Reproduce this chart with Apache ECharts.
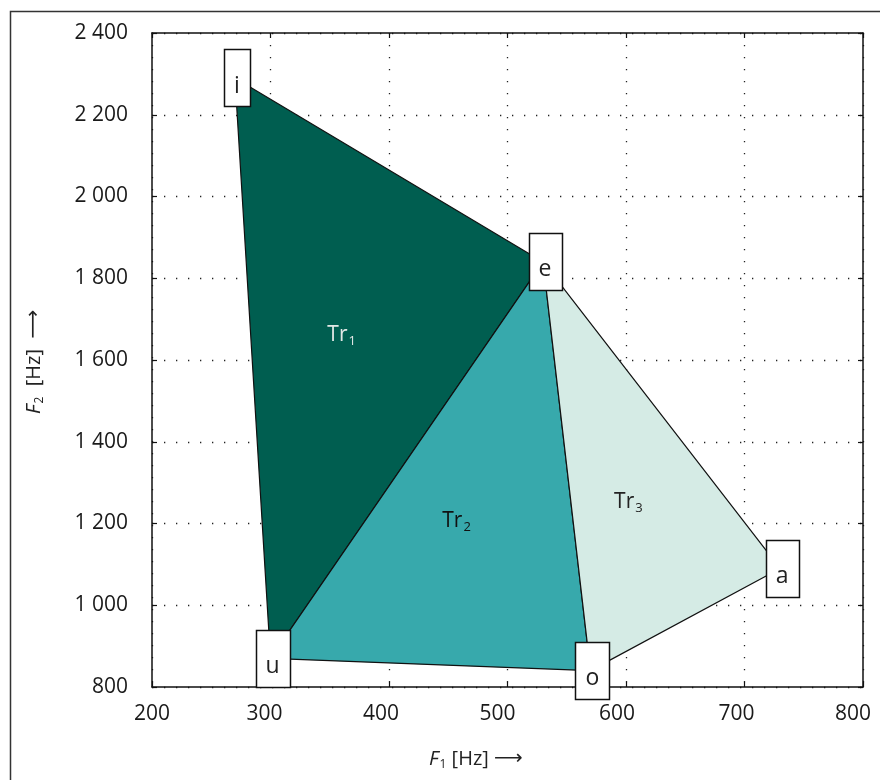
<!DOCTYPE html>
<html><head><meta charset="utf-8">
<script src="https://cdn.jsdelivr.net/npm/echarts@6/dist/echarts.min.js"></script>
<style>html,body{margin:0;padding:0;background:#fff}#c{width:880px;height:780px}</style>
</head><body><div id="c"></div>
<script>
// Vowel formant data (F1, F2 in Hz)
const vowels = ['i', 'e', 'a', 'o', 'u'];
const f1 = [270, 530, 730, 570, 300];
const f2 = [2290, 1840, 1090, 840, 870];
// Triangles by vowel names
const triangles = [['i', 'e', 'u'], ['e', 'u', 'o'], ['e', 'o', 'a']];
const triIndex = ['1', '2', '3'];
const triLabelF1 = [360, 457, 602];
const triLabelF2 = [1660, 1206, 1253];
// Axis ranges
const xMin = 200, xMax = 800, xStep = 100;
const yMin = 800, yMax = 2400, yStep = 200;

const triColors = ['#005E50', '#37A9AC', '#D5EBE5'];
const triTextColors = ['#E2E8E6', '#111111', '#222222'];
const FONT = 'Open Sans';
const LABEL_FONT_SIZE = 23;
// small leftward nudges of the x tick labels (style only)
const xLabelNudge = [0, 6, 8, 10, 9, 8, 10];

function fmt(v) { return String(v).replace(/\B(?=(\d{3})+(?!\d))/g, ' '); }

const measureCtx = document.createElement('canvas').getContext('2d');
function textWidth(t) {
  measureCtx.font = LABEL_FONT_SIZE + 'px "' + FONT + '"';
  return measureCtx.measureText(t).width;
}

const chart = echarts.init(document.getElementById('c'), null, {renderer: 'canvas'});

const axisCommon = {
  axisLine: {show: true, onZero: false, lineStyle: {color: '#111', width: 1.5}},
  axisTick: {show: true, inside: true, length: 5, lineStyle: {color: '#111', width: 1.2}},
  splitLine: {show: false}
};

const titleRich = {
  f: {fontFamily: FONT, fontSize: 20, fontStyle: 'italic', fill: '#222', lineHeight: 26},
  s: {fontFamily: FONT, fontSize: 12, fill: '#222', lineHeight: 26, padding: [11, 0, 0, 1]},
  t: {fontFamily: FONT, fontSize: 20, fill: '#222', lineHeight: 26},
  r: {fontFamily: 'DejaVu Sans', fontSize: 20, fill: '#222', lineHeight: 26}
};

const xRich = {};
xLabelNudge.forEach(function (n, i) {
  xRich['p' + i] = {fontFamily: FONT, fontSize: 21, color: '#1a1a1a', padding: [0, 2 * n, 0, 0]};
});

const option = {
  backgroundColor: '#fff',
  animation: false,
  grid: {left: 152, right: 17, top: 33, bottom: 93},
  xAxis: [
    Object.assign({}, axisCommon, {
      type: 'value', min: xMin, max: xMax, interval: xStep, position: 'bottom',
      axisLabel: {
        color: '#1a1a1a', fontFamily: FONT, fontSize: 21, margin: 17,
        formatter: function (v) {
          const i = Math.round((v - xMin) / xStep);
          return '{p' + i + '|' + v + '}';
        },
        rich: xRich
      },
      splitLine: {show: true, lineStyle: {color: '#222', width: 1.3, type: [1.3, 10.7]}}
    }),
    Object.assign({}, axisCommon, {
      type: 'value', min: xMin, max: xMax, interval: xStep, position: 'top',
      axisLabel: {show: false}
    })
  ],
  yAxis: [
    Object.assign({}, axisCommon, {
      type: 'value', min: yMin, max: yMax, interval: yStep, position: 'left',
      axisLabel: {color: '#1a1a1a', fontFamily: FONT, fontSize: 21, margin: 24, formatter: fmt},
      splitLine: {show: true, lineStyle: {color: '#222', width: 1.3, type: [1.3, 10.7]}}
    }),
    Object.assign({}, axisCommon, {
      type: 'value', min: yMin, max: yMax, interval: yStep, position: 'right',
      axisLabel: {show: false}
    })
  ],
  graphic: [
    {type: 'rect', left: 8, top: 9, z: 100, silent: true,
      shape: {x: 0, y: 0, width: 900, height: 800},
      style: {fill: 'none', stroke: '#333', lineWidth: 1.5}},
    {type: 'text', x: 429, y: 746, z: 100,
      style: {text: '{f|F}{s|1}{t| [Hz] }{r|⟶}', rich: titleRich}},
    {type: 'text', x: 21, y: 414, rotation: Math.PI / 2, z: 100,
      style: {text: '{f|F}{s|2}{t|  [Hz]  }{r|⟶}', rich: titleRich}}
  ],
  series: [
    {
      type: 'custom',
      coordinateSystem: 'cartesian2d',
      data: triangles.map((t, k) => [k]),
      renderItem: function (params, api) {
        const k = api.value(0);
        const pts = triangles[k].map(function (v) {
          const idx = vowels.indexOf(v);
          return api.coord([f1[idx], f2[idx]]);
        });
        return {
          type: 'polygon',
          shape: {points: pts},
          style: {fill: triColors[k], stroke: '#111', lineWidth: 1.2, lineJoin: 'round'}
        };
      },
      z: 3
    },
    {
      type: 'scatter',
      symbolSize: 0,
      itemStyle: {opacity: 1},
      data: triIndex.map((n, k) => ({value: [triLabelF1[k], triLabelF2[k]], name: n})),
      label: {
        show: true, position: 'inside',
        formatter: function (p) {
          const k = p.dataIndex;
          return '{a' + k + '|Tr}{b' + k + '|' + p.name + '}';
        },
        rich: (function () {
          const r = {};
          for (let k = 0; k < 3; k++) {
            r['a' + k] = {fontFamily: FONT, fontSize: 21, color: triTextColors[k], lineHeight: 26};
            r['b' + k] = {fontFamily: FONT, fontSize: 13, color: triTextColors[k], lineHeight: 26, padding: [12, 0, 0, 1]};
          }
          return r;
        })()
      },
      z: 4
    },
    {
      type: 'custom',
      coordinateSystem: 'cartesian2d',
      clip: false,
      data: vowels.map((v, i) => [f1[i], f2[i], i]),
      renderItem: function (params, api) {
        const p = api.coord([api.value(0), api.value(1)]);
        const name = vowels[api.value(2)];
        const w = Math.round(textWidth(name) + 20);
        const h = 57;
        const cx = p[0] + 2;
        return {
          type: 'group',
          children: [
            {type: 'rect', shape: {x: Math.round(cx - w / 2) + 0.5, y: Math.round(p[1] - h / 2) + 0.5, width: w, height: h},
              style: {fill: '#fff', stroke: '#111', lineWidth: 1.5}},
            {type: 'text', x: cx, y: p[1] + 8,
              style: {text: name, fontFamily: FONT, fontSize: LABEL_FONT_SIZE, fill: '#222', align: 'center', verticalAlign: 'middle'}}
          ]
        };
      },
      z: 5
    }
  ]
};
chart.setOption(option);
</script>
</body></html>
